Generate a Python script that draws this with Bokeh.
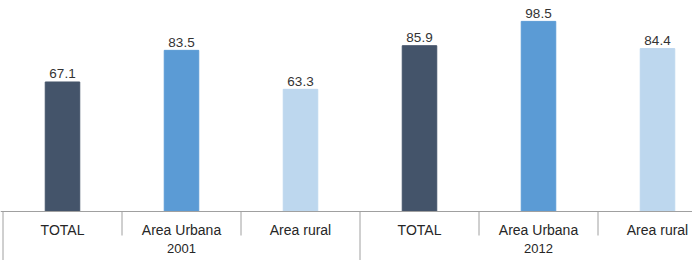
import math
from bokeh.plotting import figure
from bokeh.models import Range1d, Span, ColumnDataSource
from bokeh.core.properties import value
from bokeh.embed import file_html
from bokeh.resources import INLINE

# ---- data ----
years = ["2001", "2012"]
areas = ["TOTAL", "Area Urbana", "Area rural"]
values_2001 = [67.1, 83.5, 63.3]
values_2012 = [85.9, 98.5, 84.4]
colors = ["#44546A", "#5B9BD5", "#BDD7EE"]

# build a flat table from the named arrays
xs, tops, cats, cols, labels = [], [], [], [], []
for gi, vals in enumerate([values_2001, values_2012]):
    for ai, v in enumerate(vals):
        idx = gi * len(areas) + ai
        xs.append(idx + 0.5)
        tops.append(v)
        cats.append(areas[ai])
        cols.append(colors[ai])
        labels.append(f"{v:.1f}")
src = ColumnDataSource(dict(x=xs, top=tops, cat=cats, color=cols, label=labels))

n_cat = len(areas)
year_x = [gi * n_cat + n_cat / 2 for gi in range(len(years))]
bounds = list(range(len(years) * n_cat))
short_b = [b for b in bounds if b % n_cat != 0]
long_b = [b for b in bounds if b % n_cat == 0]

W, H = 692, 260
cat_px = 119.0
px_per_unit = 1.93
base_from_top = 211
p = figure(width=W, height=H, output_backend="svg", toolbar_location=None,
           x_range=Range1d(-2.5 / cat_px, (W - 2.5) / cat_px),
           y_range=Range1d(-(H - base_from_top) / px_per_unit, base_from_top / px_per_unit),
           x_axis_type=None, y_axis_type=None, min_border=0)
p.outline_line_color = None
p.grid.visible = False
p.background_fill_color = "white"
p.border_fill_color = "white"

FONT = value("Liberation Sans")

p.vbar(x="x", top="top", bottom=0, width=0.29, color="color", source=src)

p.add_layout(Span(location=0, dimension="width", line_color="#A0A0A0", line_width=1))
p.ray(x=short_b, y=[0] * len(short_b), length=24, length_units="screen",
      angle=-math.pi / 2, line_color="#A0A0A0", line_width=1)
p.ray(x=long_b, y=[0] * len(long_b), length=200, length_units="screen",
      angle=-math.pi / 2, line_color="#A0A0A0", line_width=1)

p.text(x="x", y="top", text="label", source=src, text_font=FONT,
       text_font_size="13.5px", text_color="#333333", text_align="center",
       text_baseline="alphabetic", y_offset=-8)
p.text(x="x", y=0, text="cat", source=src, text_font=FONT,
       text_font_size="14px", text_color="#262626", text_align="center",
       text_baseline="alphabetic", y_offset=18)
p.text(x=year_x, y=[0] * len(years), text=years, text_font=FONT,
       text_font_size="13px", text_color="#262626", text_align="center",
       text_baseline="alphabetic", y_offset=37)

open("out.html", "w").write(file_html(p, INLINE))
